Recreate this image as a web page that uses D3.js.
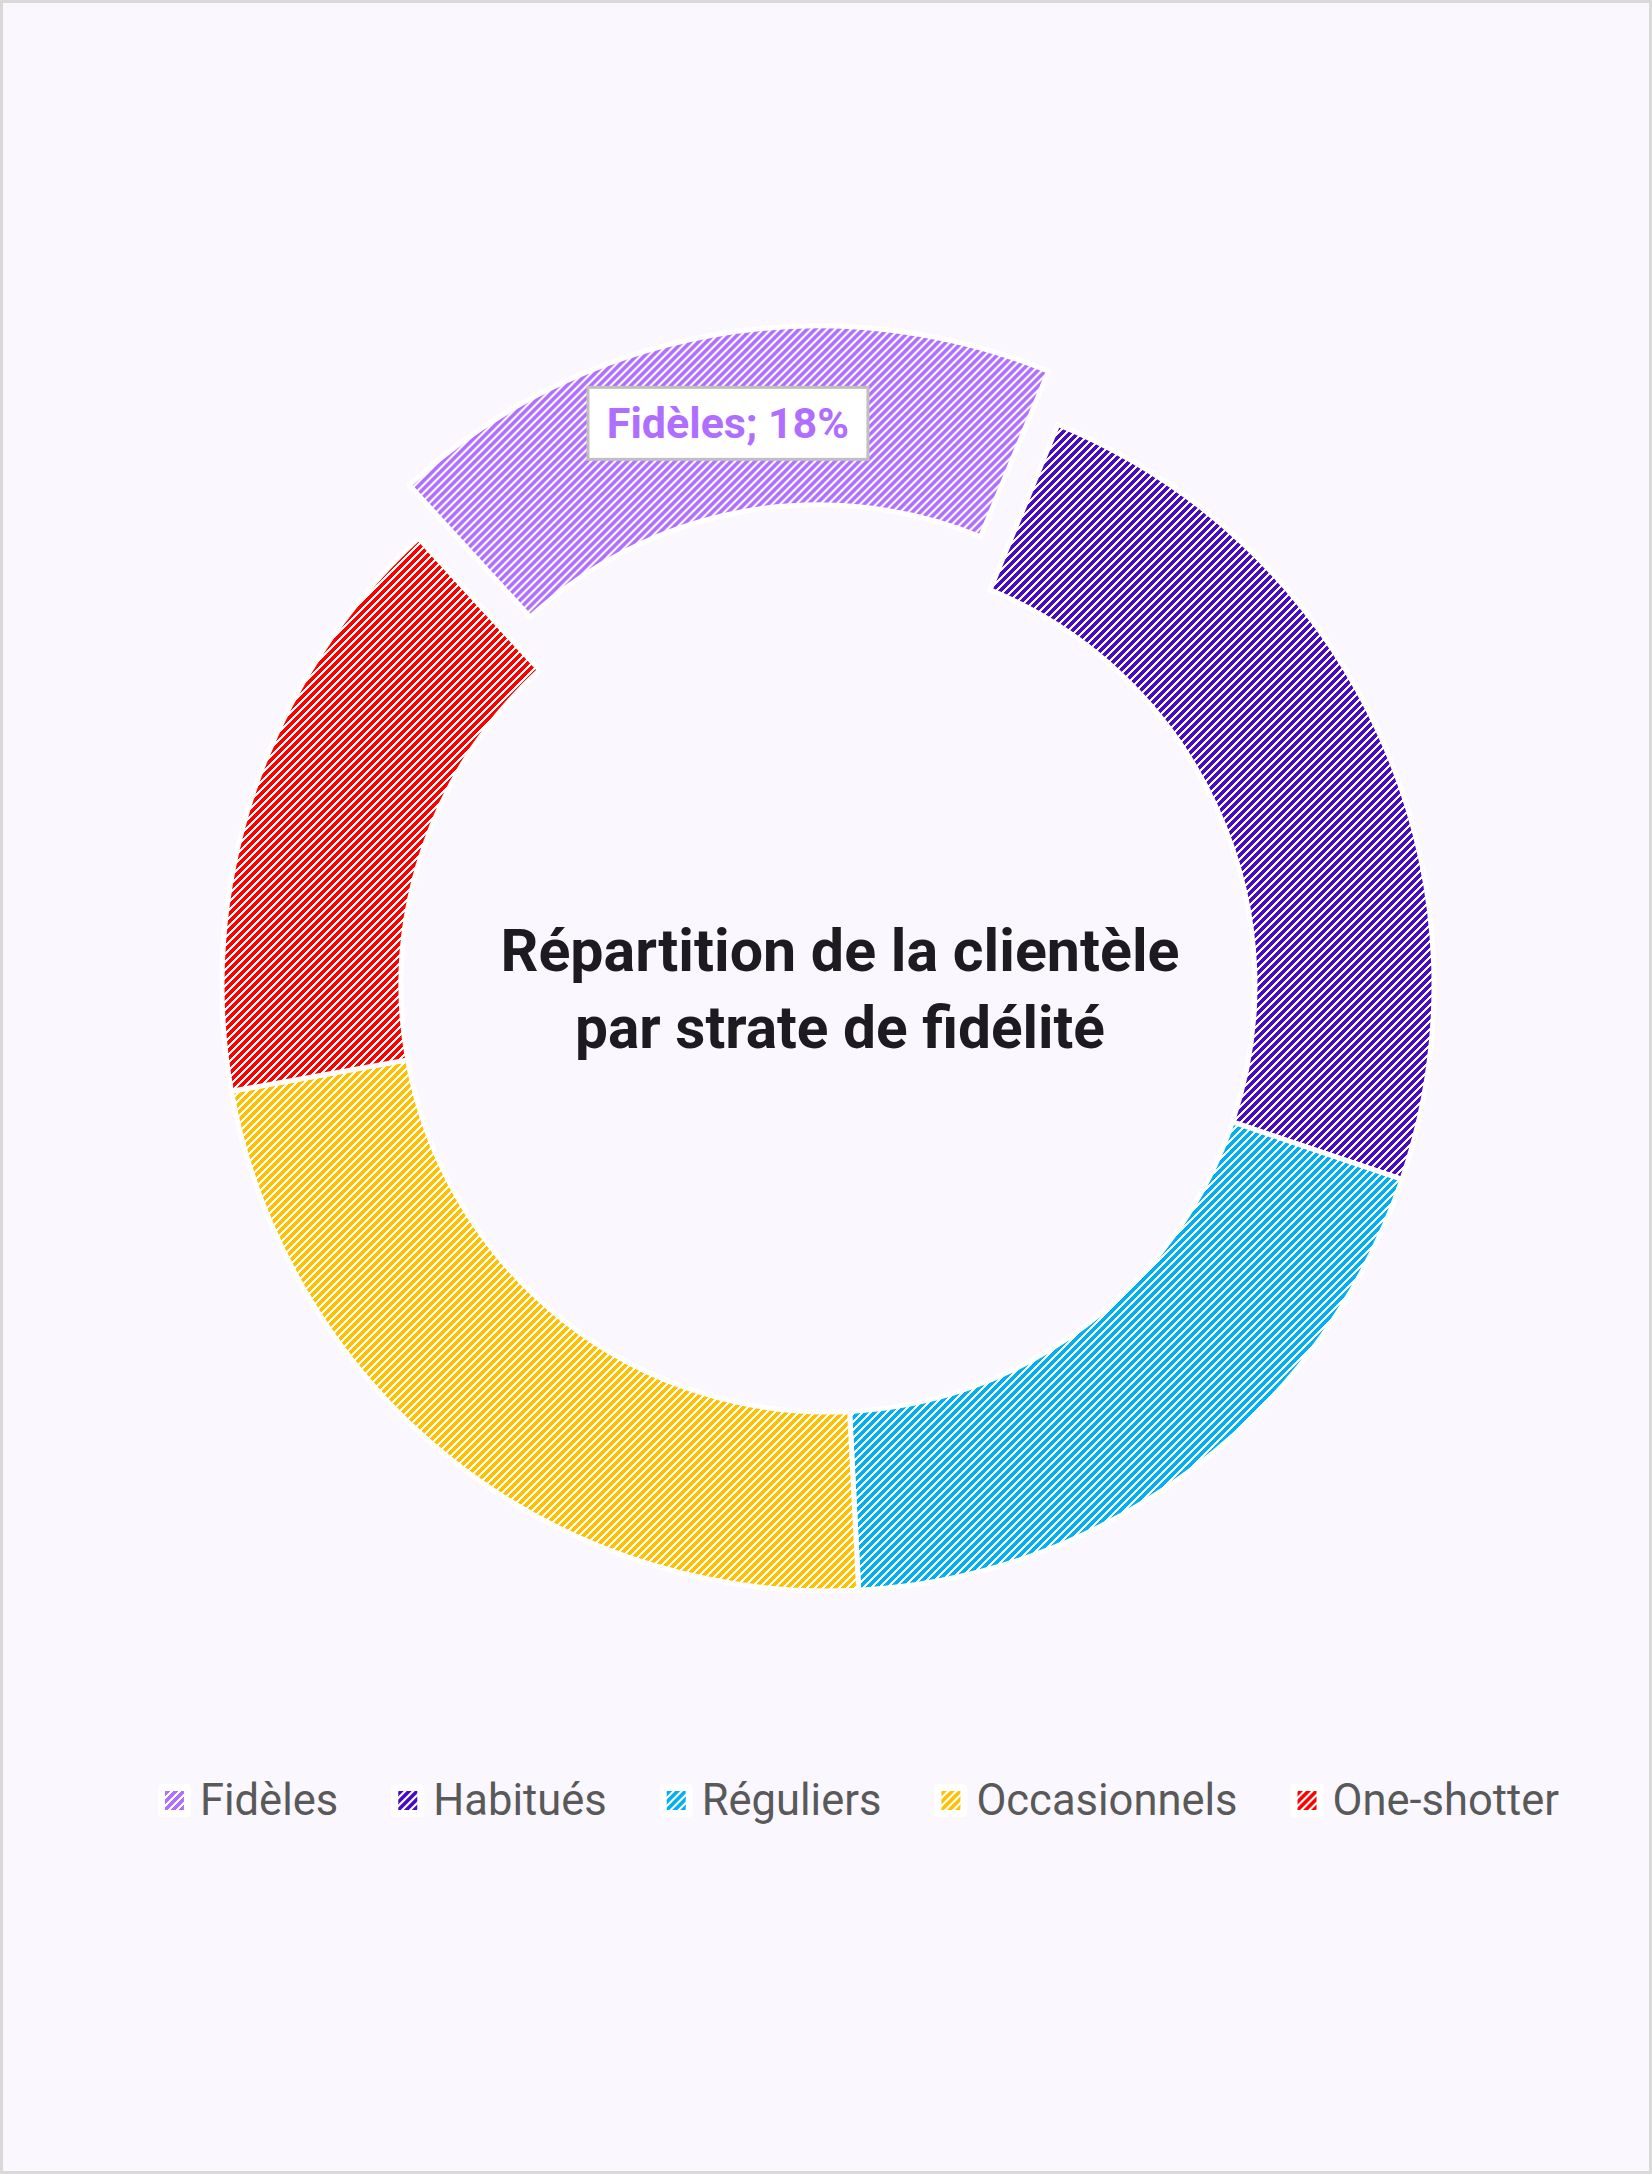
<!DOCTYPE html>
<html>
<head>
<meta charset="utf-8">
<script src="https://cdn.jsdelivr.net/npm/d3@7"></script>
<style>
  body { margin: 0; background: #fff; }
  svg { display: block; }
</style>
</head>
<body>
<svg id="chart" width="1652" height="2174"></svg>
<script>
// data
var categories = ["Fidèles", "Habitués", "Réguliers", "Occasionnels", "One-shotter"];
var shares = [18, 24, 19, 23, 16];
var colors = ["#B06EFF", "#4A0BC6", "#00B0F0", "#FFC000", "#FF0000"];
var exploded = ["Fidèles"];
var labelled = ["Fidèles"];
var titleLines = ["Répartition de la clientèle", "par strate de fidélité"];

var width = 1652, height = 2174;
var cx = 828, cy = 985;
var outerR = 606, innerR = 427;
var explode = 54;
var firstAngle = -42.5 * Math.PI / 180;

var svg = d3.select("#chart");

svg.append("rect")
    .attr("x", 1.5).attr("y", 1.5)
    .attr("width", width - 3).attr("height", height - 3)
    .attr("fill", "#FBF7FF")
    .attr("stroke", "#D9D9D9")
    .attr("stroke-width", 3);

// hatch patterns, one per category (wide upward diagonal, 8px tile)
var defs = svg.append("defs");
var cells = [];
for (var r = 0; r < 8; r++) {
  for (var k = 0; k < 5; k++) {
    cells.push({x: (7 - r + k + 8) % 8, y: r});
  }
}
categories.forEach(function(c, i) {
  var p = defs.append("pattern")
      .attr("id", "hatch" + i)
      .attr("patternUnits", "userSpaceOnUse")
      .attr("width", 8).attr("height", 8);
  p.append("rect").attr("width", 8).attr("height", 8).attr("fill", "#ffffff");
  p.selectAll("rect.px")
    .data(cells)
    .enter().append("rect")
      .attr("class", "px")
      .attr("x", function(d) { return d.x; })
      .attr("y", function(d) { return d.y; })
      .attr("width", 1).attr("height", 1)
      .attr("shape-rendering", "crispEdges")
      .attr("fill", colors[i]);
});

var color = d3.scaleOrdinal().domain(categories).range(colors.map(function(c, i) { return "url(#hatch" + i + ")"; }));

var pie = d3.pie()
    .sort(null)
    .value(function(d) { return d.value; })
    .startAngle(firstAngle)
    .endAngle(firstAngle + 2 * Math.PI);

var arc = d3.arc().innerRadius(innerR).outerRadius(outerR);

var data = categories.map(function(c, i) { return {name: c, value: shares[i]}; });
var arcs = pie(data);

function offset(d) {
  if (exploded.indexOf(d.data.name) < 0) return [0, 0];
  var mid = (d.startAngle + d.endAngle) / 2;
  return [explode * Math.sin(mid), -explode * Math.cos(mid)];
}

var g = svg.append("g").attr("transform", "translate(" + cx + "," + cy + ")");

g.selectAll("path.slice")
  .data(arcs)
  .enter().append("path")
    .attr("class", "slice")
    .attr("d", arc)
    .attr("transform", function(d) { var o = offset(d); return "translate(" + o[0] + "," + o[1] + ")"; })
    .attr("fill", function(d) { return color(d.data.name); })
    .attr("stroke", "#ffffff")
    .attr("stroke-width", 5)
    .attr("stroke-linejoin", "round");

// data label
var lab = g.selectAll("g.lab")
  .data(arcs.filter(function(d) { return labelled.indexOf(d.data.name) >= 0; }))
  .enter().append("g")
    .attr("class", "lab")
    .attr("transform", function(d) {
      var c = arc.centroid(d), o = offset(d);
      return "translate(" + (c[0] + o[0]) + "," + (c[1] + o[1]) + ")";
    });

lab.append("rect")
    .attr("x", -140).attr("y", -36)
    .attr("width", 280).attr("height", 72)
    .attr("fill", "#ffffff")
    .attr("stroke", "#BFBFBF")
    .attr("stroke-width", 3);

lab.append("text")
    .attr("text-anchor", "middle")
    .attr("y", 15)
    .attr("font-family", "Roboto, 'Noto Sans', sans-serif")
    .attr("font-weight", "bold")
    .attr("font-size", 43)
    .attr("fill", function(d) { return colors[categories.indexOf(d.data.name)]; })
    .text(function(d) { return d.data.name + "; " + d3.format(".0f")(d.value) + "%"; });

// title in the hole
var titleWidths = [679, 530];
svg.selectAll("text.title")
  .data(titleLines)
  .enter().append("text")
    .attr("class", "title")
    .attr("x", 840)
    .attr("y", function(d, i) { return 971 + i * 77; })
    .attr("text-anchor", "middle")
    .attr("font-family", "Roboto, 'Noto Sans', sans-serif")
    .attr("font-weight", "bold")
    .attr("font-size", 60)
    .attr("fill", "#1D1B20")
    .attr("textLength", function(d, i) { return titleWidths[i]; })
    .attr("lengthAdjust", "spacingAndGlyphs")
    .text(function(d) { return d; });

// legend
var legend = svg.append("g").attr("class", "legend");
var items = legend.selectAll("g.item")
  .data(categories)
  .enter().append("g")
    .attr("class", "item");

items.append("rect")
    .attr("x", -7).attr("y", -16)
    .attr("width", 33).attr("height", 33)
    .attr("rx", 4)
    .attr("fill", "#ffffff");
items.append("rect")
    .attr("x", 0).attr("y", -9)
    .attr("width", 19).attr("height", 19)
    .attr("fill", function(d) { return color(d); });
items.append("text")
    .attr("x", 35)
    .attr("y", 15)
    .attr("font-family", "Roboto, 'Noto Sans', sans-serif")
    .attr("font-size", 43.5)
    .attr("fill", "#595959")
    .text(function(d) { return d; });

var gap = 60, xs = [], pos = 0;
items.each(function() {
  xs.push(pos);
  pos += 35 + d3.select(this).select("text").node().getComputedTextLength() + gap;
});
var total = pos - gap;
var startX = 862 - total / 2;
items.attr("transform", function(d, i) { return "translate(" + (startX + xs[i]) + ",1800)"; });
</script>
</body>
</html>
